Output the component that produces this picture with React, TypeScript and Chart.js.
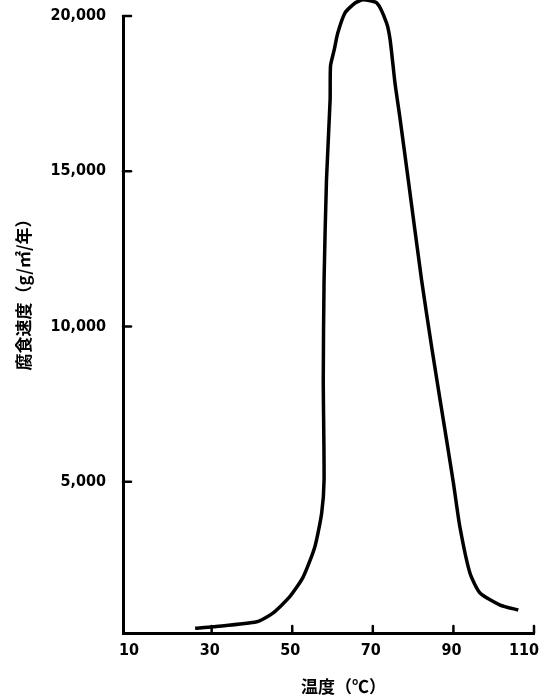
import { useEffect, useRef } from "react";
import { Chart, registerables } from "chart.js";

Chart.register(...registerables);

// Temperature (°C) and corrosion rate (g/m²/year)
const tempC = [
  25.9, 30.3, 41.2, 45.2, 49.4, 52.7, 55.6, 57.3, 57.9, 57.7, 57.9, 58.5, 59.4,
  59.5, 60.4, 61.3, 63.1, 65.6, 67.6, 71.0, 73.4, 74.3, 75.5, 76.7, 78.8, 82.1,
  84.6, 86.7, 88.3, 90.0, 91.6, 94.1, 96.6, 101.6, 106.1,
];
const corrosionRate = [
  280, 330, 490, 770, 1300, 1930, 2900, 3990, 5060, 8280, 11500, 14720, 17300,
  18390, 18900, 19450, 20100, 20420, 20520, 20420, 19780, 19230, 17840, 16750,
  14720, 11500, 9340, 7630, 6350, 4960, 3550, 2060, 1420, 1030, 870,
];

const yTickValues = [5000, 10000, 15000, 20000];
const xTickValues = [10, 30, 50, 70, 90, 110];
const xTickMarkValues = [30, 50, 70, 90, 110];
const xTitle = "温度（℃）";
const yTitle = "腐食速度（g/㎡/年）";

const tickFontFamily = "'DejaVu Sans Condensed', 'DejaVu Sans', sans-serif";
const tickFont = { family: tickFontFamily, size: 16, weight: "bold" as const };
const titleFont = "bold 17px 'Noto Sans CJK JP', sans-serif";

const axisDecor = {
  id: "axisDecor",
  afterDraw(chart: any) {
    const { ctx, chartArea, scales } = chart;
    ctx.save();
    ctx.strokeStyle = "#000";
    ctx.lineWidth = 2.5;
    ctx.lineCap = "round";
    yTickValues.forEach((v) => {
      const y = scales.y.getPixelForValue(v);
      ctx.beginPath();
      ctx.moveTo(chartArea.left, y);
      ctx.lineTo(chartArea.left + 8, y);
      ctx.stroke();
    });
    xTickMarkValues.forEach((v) => {
      const x = scales.x.getPixelForValue(v);
      ctx.beginPath();
      ctx.moveTo(x, chartArea.bottom);
      ctx.lineTo(x, chartArea.bottom - 7);
      ctx.stroke();
    });
    // x tick labels (kept inside the canvas at the right edge)
    ctx.fillStyle = "#000";
    ctx.font = `bold 16px ${tickFontFamily}`;
    ctx.textAlign = "center";
    ctx.textBaseline = "middle";
    xTickValues.forEach((v) => {
      const label = String(v);
      const w = ctx.measureText(label).width;
      let x = scales.x.getPixelForValue(v) - 2;
      x = Math.min(x, chart.width - 6 - w / 2);
      ctx.fillText(label, x, chartArea.bottom + 18);
    });
    ctx.font = titleFont;
    ctx.fillText(xTitle, (chartArea.left + chartArea.right) / 2 + 15, 687);
    ctx.translate(24, (chartArea.top + chartArea.bottom) / 2 - 34);
    ctx.rotate(-Math.PI / 2);
    ctx.fillText(yTitle, 0, 0);
    ctx.restore();
  },
};

const zeroPadding = (scale: any) => {
  scale.paddingTop = 0;
  scale.paddingBottom = 0;
  scale.paddingLeft = 0;
  scale.paddingRight = 0;
};

export default function App() {
  const canvasRef = useRef<HTMLCanvasElement | null>(null);

  useEffect(() => {
    const canvas = canvasRef.current;
    if (!canvas) return;
    const points = tempC.map((t, i) => ({ x: t, y: corrosionRate[i] }));
    const chart = new Chart(canvas, {
      type: "line",
      data: {
        datasets: [
          {
            data: points,
            borderColor: "#000",
            borderWidth: 3.5,
            pointRadius: 0,
            tension: 0.2,
            fill: false,
            clip: false as any,
          },
        ],
      },
      options: {
        animation: false,
        responsive: true,
        maintainAspectRatio: false,
        layout: { padding: { top: 16, right: 11, bottom: 0, left: 0 } },
        plugins: {
          legend: { display: false },
          tooltip: { enabled: false },
          title: { display: false },
        },
        scales: {
          x: {
            type: "linear",
            min: 8,
            max: 110,
            afterBuildTicks: (scale: any) => {
              scale.ticks = xTickValues.map((v) => ({ value: v }));
            },
            afterFit: (scale: any) => {
              scale.height = 65;
              zeroPadding(scale);
            },
            grid: { display: false, drawTicks: false },
            border: { display: true, color: "#000", width: 3 },
            ticks: { display: false },
          },
          y: {
            type: "linear",
            min: 130,
            max: 20000,
            afterBuildTicks: (scale: any) => {
              scale.ticks = yTickValues.map((v) => ({ value: v }));
            },
            afterFit: (scale: any) => {
              scale.width = 123;
              zeroPadding(scale);
            },
            grid: { display: false, drawTicks: false },
            border: { display: true, color: "#000", width: 3 },
            ticks: {
              color: "#000",
              font: tickFont,
              padding: 17,
              autoSkip: false,
              callback: (v: any) => Number(v).toLocaleString("en-US"),
            },
          },
        },
      },
      plugins: [axisDecor],
    });
    return () => chart.destroy();
  }, []);

  return (
    <div
      style={{
        position: "absolute",
        left: 0,
        top: 0,
        width: 545,
        height: 698,
        background: "#fff",
      }}
    >
      <canvas ref={canvasRef} />
    </div>
  );
}
